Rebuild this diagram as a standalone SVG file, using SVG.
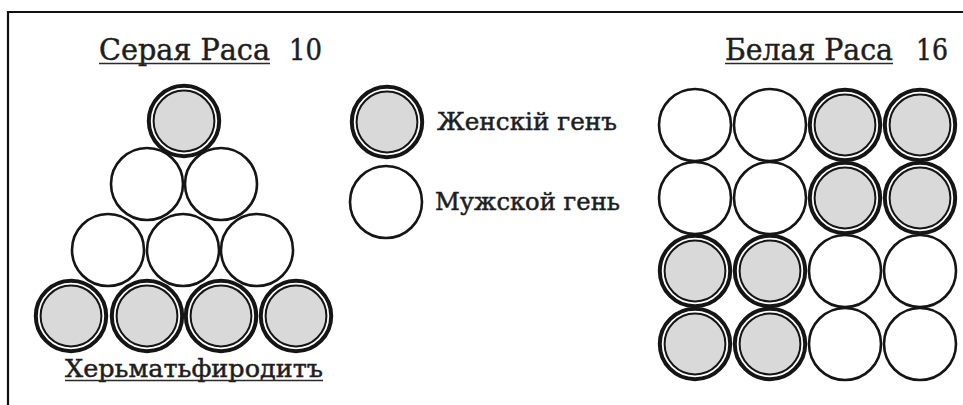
<svg xmlns="http://www.w3.org/2000/svg" xmlns:xlink="http://www.w3.org/1999/xlink" width="963" height="405" viewBox="0 0 963 405">
<style>
.t{font-family:"DejaVu Serif","Liberation Serif",serif;fill:#1e1e1e;stroke:#1e1e1e;stroke-width:0.5}
.h{font-size:30px}
.l{font-size:25px}
.ul{stroke:#2a2a2a;stroke-width:1.6}
.frame{stroke:#111;stroke-width:2.2;fill:none}
.m{fill:#fff;stroke:#151515;stroke-width:2.6}
.fo{fill:#fff;stroke:#151515;stroke-width:4}
.fi{fill:#d9d9d9;stroke:#151515;stroke-width:2}
</style>
<defs>
<g id="fem"><circle class="fo" r="35.2"/><circle class="fi" r="30.4"/></g>
<circle id="male" class="m" r="36"/>
</defs>
<rect width="963" height="405" fill="#fff"/>
<g id="frame"><polyline class="frame" points="8,405 8,12 963,12"/></g>
<g id="connectors"/>
<g id="title-gray">
<text class="t h" x="99" y="60" textLength="171" lengthAdjust="spacingAndGlyphs">Серая Раса</text>
<line class="ul" x1="99" y1="63.5" x2="270" y2="63.5"/>
<text class="t h" x="289" y="60" textLength="33" lengthAdjust="spacingAndGlyphs">10</text>
</g>
<g id="title-white">
<text class="t h" x="725" y="60" textLength="168" lengthAdjust="spacingAndGlyphs">Белая Раса</text>
<line class="ul" x1="725" y1="63.5" x2="893" y2="63.5"/>
<text class="t h" x="916" y="60" textLength="32" lengthAdjust="spacingAndGlyphs">16</text>
</g>
<g id="pyramid">
<use href="#male" x="147" y="184"/>
<use href="#male" x="221" y="184"/>
<use href="#male" x="108" y="250"/>
<use href="#male" x="183" y="250"/>
<use href="#male" x="257" y="250"/>
<use href="#fem" x="184" y="121"/>
<use href="#fem" x="71" y="316"/>
<use href="#fem" x="147" y="316"/>
<use href="#fem" x="221" y="316"/>
<use href="#fem" x="296" y="316"/>
</g>
<g id="label-herm">
<text class="t l" x="65" y="377" textLength="258" lengthAdjust="spacingAndGlyphs">Херьматьфиродитъ</text>
<line class="ul" x1="65" y1="380.5" x2="323" y2="380.5"/>
</g>
<g id="legend-female">
<use href="#fem" x="387" y="122"/>
<text class="t l" x="437" y="130" textLength="180" lengthAdjust="spacingAndGlyphs">Женскій генъ</text>
</g>
<g id="legend-male">
<use href="#male" x="386" y="202"/>
<text class="t l" x="435" y="210" textLength="185" lengthAdjust="spacingAndGlyphs">Мужской гень</text>
</g>
<g id="grid">
<use href="#male" x="695" y="125"/>
<use href="#male" x="770" y="125"/>
<use href="#male" x="695" y="198"/>
<use href="#male" x="770" y="198"/>
<use href="#male" x="845" y="271"/>
<use href="#male" x="920" y="271"/>
<use href="#male" x="845" y="344"/>
<use href="#male" x="920" y="344"/>
<use href="#fem" x="845" y="125"/>
<use href="#fem" x="920" y="125"/>
<use href="#fem" x="845" y="198"/>
<use href="#fem" x="920" y="198"/>
<use href="#fem" x="695" y="271"/>
<use href="#fem" x="770" y="271"/>
<use href="#fem" x="695" y="344"/>
<use href="#fem" x="770" y="344"/>
</g>
</svg>
